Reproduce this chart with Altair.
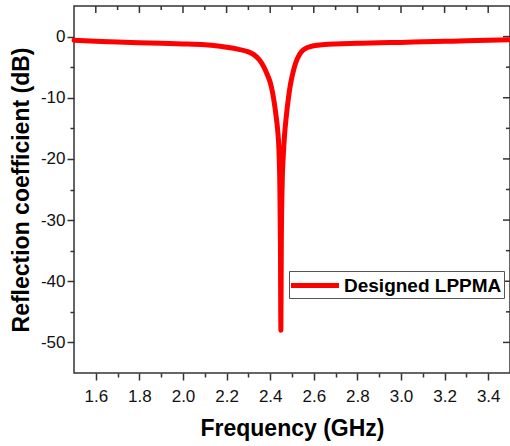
import altair as alt
import pandas as pd

# ---- data ----
freq = [1.50, 1.60, 1.70, 1.80, 1.90, 2.00, 2.10, 2.15, 2.20, 2.25, 2.30,
        2.325, 2.35, 2.37, 2.39, 2.401, 2.41, 2.419, 2.427, 2.434, 2.440,
        2.444, 2.447, 2.449, 2.451, 2.455, 2.460, 2.466, 2.474, 2.482, 2.493,
        2.505, 2.516, 2.535, 2.554, 2.60, 2.65, 2.70, 2.80, 2.90, 3.00,
        3.10, 3.20, 3.30, 3.40, 3.50]
refl = [-0.6, -0.75, -0.9, -1.0, -1.1, -1.2, -1.35, -1.5, -1.75, -2.05, -2.5,
        -2.95, -3.8, -4.9, -6.5, -7.6, -9.0, -10.9, -13.0, -15.2, -18.5,
        -24, -34, -48, -34, -24, -19.5, -16.0, -13.0, -10.5, -7.8,
        -5.8, -4.4, -2.9, -2.1, -1.5, -1.3, -1.2, -1.1, -1.0, -0.95,
        -0.85, -0.78, -0.7, -0.6, -0.5]
series_name = "Designed LPPMA"

x_major = [1.6, 1.8, 2.0, 2.2, 2.4, 2.6, 2.8, 3.0, 3.2, 3.4]
x_minor = [1.7, 1.9, 2.1, 2.3, 2.5, 2.7, 2.9, 3.1, 3.3]
y_major = [0, -10, -20, -30, -40, -50]
y_minor = [-5, -15, -25, -35, -45]

df = pd.DataFrame({"f": freq, "db": refl, "s": [series_name] * len(freq)})
xmaj_df = pd.DataFrame({"v": x_major})
xmin_df = pd.DataFrame({"v": x_minor})
ymaj_df = pd.DataFrame({"v": y_major})
ymin_df = pd.DataFrame({"v": y_minor})

FONT = "Liberation Sans"
TICK = "#333333"
TW = 1.5
W, H = 436, 367
xs = alt.Scale(domain=[1.5, 3.5], nice=False, zero=False)
ys = alt.Scale(domain=[-55, 5], nice=False, zero=False)

main = alt.Chart(df).mark_line(
    strokeWidth=5, interpolate="monotone", strokeJoin="round", strokeCap="round"
).encode(
    x=alt.X("f:Q", scale=xs, axis=alt.Axis(
        orient="bottom", values=x_major, format=".1f", tickSize=7, tickColor=TICK,
        tickWidth=TW,
        labelPadding=8, labelFontSize=17, labelFont=FONT, labelColor="#111111",
        title="Frequency (GHz)", titleFont=FONT, titleFontSize=23, titleFontWeight="bold",
        titleColor="#000000", titleY=62, titleBaseline="alphabetic",
        domain=False, grid=False)),
    y=alt.Y("db:Q", scale=ys, axis=alt.Axis(
        orient="left", values=y_major, tickSize=7, tickColor=TICK, tickWidth=TW,
        labelPadding=2, labelFontSize=17, labelFont=FONT, labelColor="#111111",
        labelExpr="datum.value == 0 ? '0' : '-' + abs(datum.value)",
        title="Reflection coefficient (dB)", titleFont=FONT, titleFontSize=23,
        titleFontWeight="bold", titleColor="#000000", titleX=-46,
        titleBaseline="alphabetic", domain=False, grid=False)),
    color=alt.Color("s:N", scale=alt.Scale(domain=[series_name], range=["#ff0000"]),
                    legend=alt.Legend(
                        orient="none", legendX=215, legendY=265, title=None,
                        labelFont=FONT, labelFontSize=19, labelFontWeight="bold",
                        labelColor="#000000", labelLimit=400,
                        strokeColor="#555555", fillColor="#ffffff", padding=2,
                        symbolType="M-1.25,0H3.55", symbolSize=400,
                        symbolStrokeWidth=5, labelOffset=28)),
)


def ax(orient, values, size):
    return alt.Axis(orient=orient, values=values, tickSize=size, tickColor=TICK,
                    tickWidth=TW, labels=False, domain=False, grid=False, title=None)


minor_bottom = alt.Chart(df).mark_line(opacity=0).encode(
    x=alt.X("f:Q", scale=xs, axis=ax("bottom", x_minor, 4)),
    y=alt.Y("db:Q", scale=ys, axis=None),
)
minor_left = alt.Chart(df).mark_line(opacity=0).encode(
    x=alt.X("f:Q", scale=xs, axis=None),
    y=alt.Y("db:Q", scale=ys, axis=ax("left", y_minor, 4)),
)


def top_ticks(data, length):
    return alt.Chart(data).mark_rule(color=TICK, strokeWidth=TW).encode(
        x=alt.X("v:Q", scale=xs, axis=None),
        y=alt.value(0), y2=alt.value(length),
    )


def right_ticks(data, length):
    return alt.Chart(data).mark_rule(color=TICK, strokeWidth=TW).encode(
        y=alt.Y("v:Q", scale=ys, axis=None),
        x=alt.value(W), x2=alt.value(W - length),
    )


layers = [
    minor_bottom,
    minor_left,
    top_ticks(xmaj_df, 7),
    top_ticks(xmin_df, 4),
    right_ticks(ymaj_df, 7),
    right_ticks(ymin_df, 4),
    main,
]

chart = alt.layer(*layers).resolve_axis(
    x="independent", y="independent"
).properties(
    width=W, height=H,
    padding={"left": 74, "top": 6, "right": 0, "bottom": 73},
    autosize=alt.AutoSizeParams(type="none"),
    background="#ffffff",
).configure_view(stroke="#333333", strokeWidth=1.5)

chart.save("out.html", embed_options={"renderer": "svg", "actions": False})
